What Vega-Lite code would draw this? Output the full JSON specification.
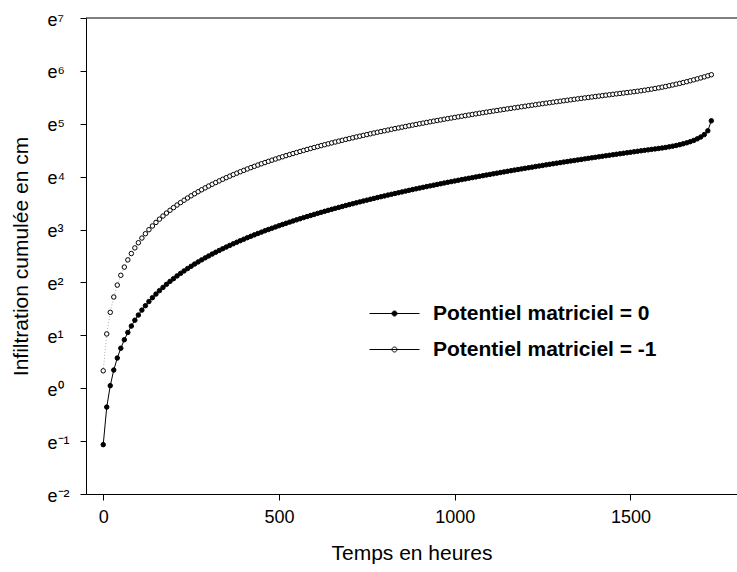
{"$schema":"https://vega.github.io/schema/vega-lite/v6.json","width":651,"height":476,"autosize":{"type":"none"},"padding":{"left":86,"top":18,"right":0,"bottom":78},"background":"white",
"config":{"view":{"stroke":null},"font":"Liberation Sans","axis":{"grid":false,"domainColor":"black","tickColor":"black","labelColor":"black","titleColor":"black","labelFont":"Liberation Sans","titleFont":"Liberation Sans","titleFontWeight":"normal","domainWidth":1,"tickWidth":1}},
"data":{"values":[
{"t":0,"Potentiel matriciel = 0":0.344,"Potentiel matriciel = -1":1.39},{"t":10,"Potentiel matriciel = 0":0.70,"Potentiel matriciel = -1":2.79},{"t":20,"Potentiel matriciel = 0":1.05,"Potentiel matriciel = -1":4.20},{"t":30,"Potentiel matriciel = 0":1.41,"Potentiel matriciel = -1":5.61},{"t":40,"Potentiel matriciel = 0":1.77,"Potentiel matriciel = -1":7.03},{"t":50,"Potentiel matriciel = 0":2.13,"Potentiel matriciel = -1":8.46},{"t":60,"Potentiel matriciel = 0":2.50,"Potentiel matriciel = -1":9.88},{"t":70,"Potentiel matriciel = 0":2.87,"Potentiel matriciel = -1":11.32},{"t":80,"Potentiel matriciel = 0":3.24,"Potentiel matriciel = -1":12.76},{"t":90,"Potentiel matriciel = 0":3.62,"Potentiel matriciel = -1":14.20},
{"t":100,"Potentiel matriciel = 0":3.99,"Potentiel matriciel = -1":15.65},{"t":110,"Potentiel matriciel = 0":4.38,"Potentiel matriciel = -1":17.10},{"t":120,"Potentiel matriciel = 0":4.76,"Potentiel matriciel = -1":18.56},{"t":130,"Potentiel matriciel = 0":5.15,"Potentiel matriciel = -1":20.03},{"t":140,"Potentiel matriciel = 0":5.54,"Potentiel matriciel = -1":21.50},{"t":150,"Potentiel matriciel = 0":5.93,"Potentiel matriciel = -1":22.98},{"t":160,"Potentiel matriciel = 0":6.33,"Potentiel matriciel = -1":24.46},{"t":170,"Potentiel matriciel = 0":6.73,"Potentiel matriciel = -1":25.94},{"t":180,"Potentiel matriciel = 0":7.13,"Potentiel matriciel = -1":27.43},{"t":190,"Potentiel matriciel = 0":7.54,"Potentiel matriciel = -1":28.93},
{"t":200,"Potentiel matriciel = 0":7.94,"Potentiel matriciel = -1":30.43},{"t":210,"Potentiel matriciel = 0":8.36,"Potentiel matriciel = -1":31.94},{"t":220,"Potentiel matriciel = 0":8.77,"Potentiel matriciel = -1":33.45},{"t":230,"Potentiel matriciel = 0":9.19,"Potentiel matriciel = -1":34.97},{"t":240,"Potentiel matriciel = 0":9.61,"Potentiel matriciel = -1":36.49},{"t":250,"Potentiel matriciel = 0":10.03,"Potentiel matriciel = -1":38.02},{"t":260,"Potentiel matriciel = 0":10.46,"Potentiel matriciel = -1":39.55},{"t":270,"Potentiel matriciel = 0":10.89,"Potentiel matriciel = -1":41.09},{"t":280,"Potentiel matriciel = 0":11.32,"Potentiel matriciel = -1":42.63},{"t":290,"Potentiel matriciel = 0":11.76,"Potentiel matriciel = -1":44.18},
{"t":300,"Potentiel matriciel = 0":12.19,"Potentiel matriciel = -1":45.73},{"t":310,"Potentiel matriciel = 0":12.64,"Potentiel matriciel = -1":47.29},{"t":320,"Potentiel matriciel = 0":13.08,"Potentiel matriciel = -1":48.85},{"t":330,"Potentiel matriciel = 0":13.53,"Potentiel matriciel = -1":50.42},{"t":340,"Potentiel matriciel = 0":13.98,"Potentiel matriciel = -1":52.00},{"t":350,"Potentiel matriciel = 0":14.43,"Potentiel matriciel = -1":53.58},{"t":360,"Potentiel matriciel = 0":14.89,"Potentiel matriciel = -1":55.16},{"t":370,"Potentiel matriciel = 0":15.35,"Potentiel matriciel = -1":56.75},{"t":380,"Potentiel matriciel = 0":15.81,"Potentiel matriciel = -1":58.34},{"t":390,"Potentiel matriciel = 0":16.28,"Potentiel matriciel = -1":59.94},
{"t":400,"Potentiel matriciel = 0":16.74,"Potentiel matriciel = -1":61.55},{"t":410,"Potentiel matriciel = 0":17.22,"Potentiel matriciel = -1":63.16},{"t":420,"Potentiel matriciel = 0":17.69,"Potentiel matriciel = -1":64.78},{"t":430,"Potentiel matriciel = 0":18.17,"Potentiel matriciel = -1":66.40},{"t":440,"Potentiel matriciel = 0":18.65,"Potentiel matriciel = -1":68.02},{"t":450,"Potentiel matriciel = 0":19.13,"Potentiel matriciel = -1":69.66},{"t":460,"Potentiel matriciel = 0":19.62,"Potentiel matriciel = -1":71.29},{"t":470,"Potentiel matriciel = 0":20.11,"Potentiel matriciel = -1":72.93},{"t":480,"Potentiel matriciel = 0":20.60,"Potentiel matriciel = -1":74.58},{"t":490,"Potentiel matriciel = 0":21.10,"Potentiel matriciel = -1":76.23},
{"t":500,"Potentiel matriciel = 0":21.59,"Potentiel matriciel = -1":77.89},{"t":510,"Potentiel matriciel = 0":22.10,"Potentiel matriciel = -1":79.55},{"t":520,"Potentiel matriciel = 0":22.60,"Potentiel matriciel = -1":81.22},{"t":530,"Potentiel matriciel = 0":23.11,"Potentiel matriciel = -1":82.89},{"t":540,"Potentiel matriciel = 0":23.62,"Potentiel matriciel = -1":84.57},{"t":550,"Potentiel matriciel = 0":24.13,"Potentiel matriciel = -1":86.26},{"t":560,"Potentiel matriciel = 0":24.65,"Potentiel matriciel = -1":87.94},{"t":570,"Potentiel matriciel = 0":25.17,"Potentiel matriciel = -1":89.64},{"t":580,"Potentiel matriciel = 0":25.69,"Potentiel matriciel = -1":91.34},{"t":590,"Potentiel matriciel = 0":26.22,"Potentiel matriciel = -1":93.04},
{"t":600,"Potentiel matriciel = 0":26.74,"Potentiel matriciel = -1":94.75},{"t":610,"Potentiel matriciel = 0":27.28,"Potentiel matriciel = -1":96.46},{"t":620,"Potentiel matriciel = 0":27.81,"Potentiel matriciel = -1":98.18},{"t":630,"Potentiel matriciel = 0":28.35,"Potentiel matriciel = -1":99.91},{"t":640,"Potentiel matriciel = 0":28.89,"Potentiel matriciel = -1":101.6},{"t":650,"Potentiel matriciel = 0":29.43,"Potentiel matriciel = -1":103.4},{"t":660,"Potentiel matriciel = 0":29.98,"Potentiel matriciel = -1":105.1},{"t":670,"Potentiel matriciel = 0":30.53,"Potentiel matriciel = -1":106.9},{"t":680,"Potentiel matriciel = 0":31.08,"Potentiel matriciel = -1":108.6},{"t":690,"Potentiel matriciel = 0":31.64,"Potentiel matriciel = -1":110.4},
{"t":700,"Potentiel matriciel = 0":32.19,"Potentiel matriciel = -1":112.1},{"t":710,"Potentiel matriciel = 0":32.76,"Potentiel matriciel = -1":113.9},{"t":720,"Potentiel matriciel = 0":33.32,"Potentiel matriciel = -1":115.7},{"t":730,"Potentiel matriciel = 0":33.89,"Potentiel matriciel = -1":117.4},{"t":740,"Potentiel matriciel = 0":34.46,"Potentiel matriciel = -1":119.2},{"t":750,"Potentiel matriciel = 0":35.03,"Potentiel matriciel = -1":121.0},{"t":760,"Potentiel matriciel = 0":35.61,"Potentiel matriciel = -1":122.8},{"t":770,"Potentiel matriciel = 0":36.19,"Potentiel matriciel = -1":124.6},{"t":780,"Potentiel matriciel = 0":36.77,"Potentiel matriciel = -1":126.4},{"t":790,"Potentiel matriciel = 0":37.36,"Potentiel matriciel = -1":128.2},
{"t":800,"Potentiel matriciel = 0":37.94,"Potentiel matriciel = -1":130.0},{"t":810,"Potentiel matriciel = 0":38.54,"Potentiel matriciel = -1":131.8},{"t":820,"Potentiel matriciel = 0":39.13,"Potentiel matriciel = -1":133.7},{"t":830,"Potentiel matriciel = 0":39.73,"Potentiel matriciel = -1":135.5},{"t":840,"Potentiel matriciel = 0":40.33,"Potentiel matriciel = -1":137.3},{"t":850,"Potentiel matriciel = 0":40.93,"Potentiel matriciel = -1":139.2},{"t":860,"Potentiel matriciel = 0":41.54,"Potentiel matriciel = -1":141.0},{"t":870,"Potentiel matriciel = 0":42.15,"Potentiel matriciel = -1":142.9},{"t":880,"Potentiel matriciel = 0":42.76,"Potentiel matriciel = -1":144.7},{"t":890,"Potentiel matriciel = 0":43.38,"Potentiel matriciel = -1":146.6},
{"t":900,"Potentiel matriciel = 0":43.99,"Potentiel matriciel = -1":148.5},{"t":910,"Potentiel matriciel = 0":44.62,"Potentiel matriciel = -1":150.3},{"t":920,"Potentiel matriciel = 0":45.24,"Potentiel matriciel = -1":152.2},{"t":930,"Potentiel matriciel = 0":45.87,"Potentiel matriciel = -1":154.1},{"t":940,"Potentiel matriciel = 0":46.50,"Potentiel matriciel = -1":156.0},{"t":950,"Potentiel matriciel = 0":47.13,"Potentiel matriciel = -1":157.9},{"t":960,"Potentiel matriciel = 0":47.77,"Potentiel matriciel = -1":159.8},{"t":970,"Potentiel matriciel = 0":48.41,"Potentiel matriciel = -1":161.7},{"t":980,"Potentiel matriciel = 0":49.05,"Potentiel matriciel = -1":163.6},{"t":990,"Potentiel matriciel = 0":49.70,"Potentiel matriciel = -1":165.5},
{"t":1000,"Potentiel matriciel = 0":50.34,"Potentiel matriciel = -1":167.4},{"t":1010,"Potentiel matriciel = 0":51.00,"Potentiel matriciel = -1":169.3},{"t":1020,"Potentiel matriciel = 0":51.65,"Potentiel matriciel = -1":171.2},{"t":1030,"Potentiel matriciel = 0":52.31,"Potentiel matriciel = -1":173.2},{"t":1040,"Potentiel matriciel = 0":52.97,"Potentiel matriciel = -1":175.1},{"t":1050,"Potentiel matriciel = 0":53.63,"Potentiel matriciel = -1":177.1},{"t":1060,"Potentiel matriciel = 0":54.30,"Potentiel matriciel = -1":179.0},{"t":1070,"Potentiel matriciel = 0":54.97,"Potentiel matriciel = -1":181.0},{"t":1080,"Potentiel matriciel = 0":55.64,"Potentiel matriciel = -1":182.9},{"t":1090,"Potentiel matriciel = 0":56.32,"Potentiel matriciel = -1":184.9},
{"t":1100,"Potentiel matriciel = 0":56.99,"Potentiel matriciel = -1":186.9},{"t":1110,"Potentiel matriciel = 0":57.68,"Potentiel matriciel = -1":188.8},{"t":1120,"Potentiel matriciel = 0":58.36,"Potentiel matriciel = -1":190.8},{"t":1130,"Potentiel matriciel = 0":59.05,"Potentiel matriciel = -1":192.8},{"t":1140,"Potentiel matriciel = 0":59.74,"Potentiel matriciel = -1":194.8},{"t":1150,"Potentiel matriciel = 0":60.43,"Potentiel matriciel = -1":196.8},{"t":1160,"Potentiel matriciel = 0":61.13,"Potentiel matriciel = -1":198.8},{"t":1170,"Potentiel matriciel = 0":61.83,"Potentiel matriciel = -1":200.8},{"t":1180,"Potentiel matriciel = 0":62.53,"Potentiel matriciel = -1":202.8},{"t":1190,"Potentiel matriciel = 0":63.24,"Potentiel matriciel = -1":204.8},
{"t":1200,"Potentiel matriciel = 0":63.94,"Potentiel matriciel = -1":206.8},{"t":1210,"Potentiel matriciel = 0":64.66,"Potentiel matriciel = -1":208.9},{"t":1220,"Potentiel matriciel = 0":65.37,"Potentiel matriciel = -1":210.9},{"t":1230,"Potentiel matriciel = 0":66.09,"Potentiel matriciel = -1":212.9},{"t":1240,"Potentiel matriciel = 0":66.81,"Potentiel matriciel = -1":215.0},{"t":1250,"Potentiel matriciel = 0":67.53,"Potentiel matriciel = -1":217.0},{"t":1260,"Potentiel matriciel = 0":68.26,"Potentiel matriciel = -1":219.1},{"t":1270,"Potentiel matriciel = 0":68.99,"Potentiel matriciel = -1":221.1},{"t":1280,"Potentiel matriciel = 0":69.72,"Potentiel matriciel = -1":223.2},{"t":1290,"Potentiel matriciel = 0":70.46,"Potentiel matriciel = -1":225.3},
{"t":1300,"Potentiel matriciel = 0":71.19,"Potentiel matriciel = -1":227.3},{"t":1310,"Potentiel matriciel = 0":71.94,"Potentiel matriciel = -1":229.4},{"t":1320,"Potentiel matriciel = 0":72.68,"Potentiel matriciel = -1":231.5},{"t":1330,"Potentiel matriciel = 0":73.43,"Potentiel matriciel = -1":233.6},{"t":1340,"Potentiel matriciel = 0":74.18,"Potentiel matriciel = -1":235.7},{"t":1350,"Potentiel matriciel = 0":74.93,"Potentiel matriciel = -1":237.8},{"t":1360,"Potentiel matriciel = 0":75.69,"Potentiel matriciel = -1":239.9},{"t":1370,"Potentiel matriciel = 0":76.45,"Potentiel matriciel = -1":242.0},{"t":1380,"Potentiel matriciel = 0":77.21,"Potentiel matriciel = -1":244.1},{"t":1390,"Potentiel matriciel = 0":77.98,"Potentiel matriciel = -1":246.2},
{"t":1400,"Potentiel matriciel = 0":78.74,"Potentiel matriciel = -1":248.4},{"t":1410,"Potentiel matriciel = 0":79.52,"Potentiel matriciel = -1":250.5},{"t":1420,"Potentiel matriciel = 0":80.29,"Potentiel matriciel = -1":252.6},{"t":1430,"Potentiel matriciel = 0":81.07,"Potentiel matriciel = -1":254.8},{"t":1440,"Potentiel matriciel = 0":81.85,"Potentiel matriciel = -1":256.9},{"t":1450,"Potentiel matriciel = 0":82.63,"Potentiel matriciel = -1":259.1},{"t":1460,"Potentiel matriciel = 0":83.42,"Potentiel matriciel = -1":261.2},{"t":1470,"Potentiel matriciel = 0":84.21,"Potentiel matriciel = -1":263.4},{"t":1480,"Potentiel matriciel = 0":85.00,"Potentiel matriciel = -1":265.5},{"t":1490,"Potentiel matriciel = 0":85.80,"Potentiel matriciel = -1":267.7},
{"t":1500,"Potentiel matriciel = 0":86.59,"Potentiel matriciel = -1":269.9},{"t":1510,"Potentiel matriciel = 0":87.40,"Potentiel matriciel = -1":272.1},{"t":1520,"Potentiel matriciel = 0":88.20,"Potentiel matriciel = -1":274.6},{"t":1530,"Potentiel matriciel = 0":89.01,"Potentiel matriciel = -1":277.1},{"t":1540,"Potentiel matriciel = 0":89.82,"Potentiel matriciel = -1":279.9},{"t":1550,"Potentiel matriciel = 0":90.63,"Potentiel matriciel = -1":282.8},{"t":1560,"Potentiel matriciel = 0":91.45,"Potentiel matriciel = -1":286.0},{"t":1570,"Potentiel matriciel = 0":92.27,"Potentiel matriciel = -1":289.3},{"t":1580,"Potentiel matriciel = 0":93.09,"Potentiel matriciel = -1":292.8},{"t":1590,"Potentiel matriciel = 0":93.92,"Potentiel matriciel = -1":296.6},
{"t":1600,"Potentiel matriciel = 0":94.9,"Potentiel matriciel = -1":300.5},{"t":1610,"Potentiel matriciel = 0":96.0,"Potentiel matriciel = -1":304.7},{"t":1620,"Potentiel matriciel = 0":97.2,"Potentiel matriciel = -1":309.1},{"t":1630,"Potentiel matriciel = 0":98.5,"Potentiel matriciel = -1":313.7},{"t":1640,"Potentiel matriciel = 0":100.0,"Potentiel matriciel = -1":318.5},{"t":1650,"Potentiel matriciel = 0":101.7,"Potentiel matriciel = -1":323.7},{"t":1660,"Potentiel matriciel = 0":103.6,"Potentiel matriciel = -1":329.0},{"t":1670,"Potentiel matriciel = 0":105.8,"Potentiel matriciel = -1":334.7},{"t":1680,"Potentiel matriciel = 0":108.4,"Potentiel matriciel = -1":340.6},{"t":1690,"Potentiel matriciel = 0":111.6,"Potentiel matriciel = -1":346.9},
{"t":1700,"Potentiel matriciel = 0":115.6,"Potentiel matriciel = -1":353.4},{"t":1710,"Potentiel matriciel = 0":121,"Potentiel matriciel = -1":360.3},{"t":1720,"Potentiel matriciel = 0":130,"Potentiel matriciel = -1":367.5},{"t":1730,"Potentiel matriciel = 0":157,"Potentiel matriciel = -1":375}
]},
"transform":[{"fold":["Potentiel matriciel = 0","Potentiel matriciel = -1"],"as":["serie","I"]}],
"encoding":{
"x":{"field":"t","type":"quantitative","scale":{"domain":[-49,1803],"nice":false,"zero":false},"axis":{"values":[0,500,1000,1500],"format":"d","tickSize":6,"labelFontSize":18,"labelPadding":8,"title":"Temps en heures","titleFontSize":21,"titlePadding":16}},
"y":{"field":"I","type":"quantitative","scale":{"type":"log","base":2.718281828459045,"domain":[0.1353352832,1096.633158],"nice":false},"axis":{"values":[0.1353352832,0.3678794412,1,2.718281828,7.389056099,20.08553692,54.59815003,148.4131591,403.4287935,1096.633158],"labelExpr":"'e' + ['⁻²','⁻¹','⁰','¹','²','³','⁴','⁵','⁶','⁷'][round(log(datum.value))+2]","labelAlign":"left","labelPadding":33,"labelOffset":2,"tickSize":6,"labelFontSize":18,"title":"Infiltration cumulée en cm","titleFontSize":21,"titleX":-55}}
},
"layer":[
{"data":{"values":[{"top":1096.633158}]},"mark":{"type":"rule","color":"black","strokeWidth":1},"encoding":{"x":null,"y":{"field":"top","type":"quantitative"}}},
{"transform":[{"filter":"datum.serie === 'Potentiel matriciel = -1'"}],"mark":{"type":"line","strokeWidth":1,"color":"#aaaaaa","strokeDash":[1,2]}},
{"transform":[{"filter":"datum.serie === 'Potentiel matriciel = 0'"}],"mark":{"type":"line","strokeWidth":1,"color":"#000000"}},
{"mark":{"type":"circle","size":20,"stroke":"black","strokeWidth":1,"opacity":1},"encoding":{"fill":{"field":"serie","type":"nominal","scale":{"domain":["Potentiel matriciel = 0","Potentiel matriciel = -1"],"range":["#000000","#ffffff"]},"legend":{"title":null,"orient":"none","legendX":283,"legendY":270,"padding":0,"labelFontSize":21,"labelFontWeight":"bold","labelFont":"Liberation Sans","labelColor":"black","labelLimit":500,"symbolSize":2500,"symbolOffset":0,"labelOffset":13,"symbolStrokeColor":"black","symbolStrokeWidth":1,"rowPadding":-5.5,"symbolType":"M-1,0L1,0M0.1,0A0.1,0.1,0,1,1,-0.1,0A0.1,0.1,0,1,1,0.1,0Z","encode":{"symbols":{"shape":{"value":{"expr":"datum.value === 'Potentiel matriciel = -1' ? 'M-0.98,0h0.04M-0.78,0h0.04M-0.58,0h0.04M-0.38,0h0.04M0.34,0h0.04M0.54,0h0.04M0.74,0h0.04M0.94,0h0.04M0.1,0A0.1,0.1,0,1,1,-0.1,0A0.1,0.1,0,1,1,0.1,0Z' : 'M-1,0L1,0M0.1,0A0.1,0.1,0,1,1,-0.1,0A0.1,0.1,0,1,1,0.1,0Z'"}}}}}}}}
]
}
